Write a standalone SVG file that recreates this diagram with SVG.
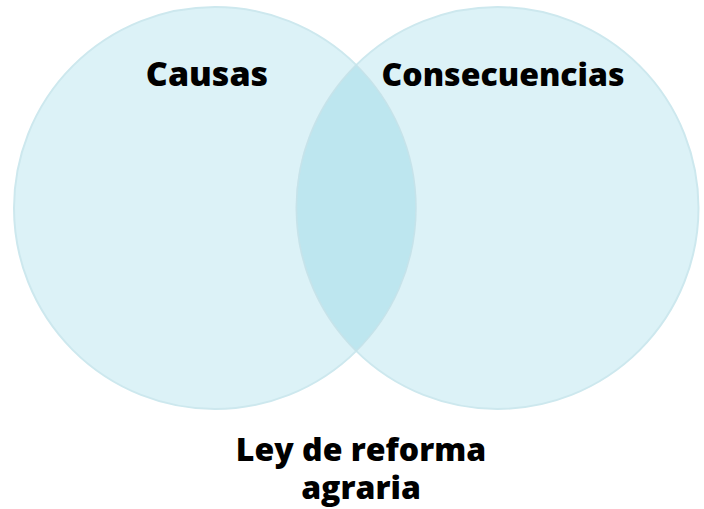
<svg xmlns="http://www.w3.org/2000/svg" width="704" height="509" viewBox="0 0 704 509">
<style>
.c{fill:#dcf2f7;stroke:#cde8ee;stroke-width:2}
.t{font-family:"Open Sans","DejaVu Sans",sans-serif;font-weight:800;fill:#000;text-anchor:middle}
</style>
<rect width="704" height="509" fill="#fff"/>
<g id="left"><circle class="c" cx="215" cy="208" r="201"/></g>
<g id="right"><circle class="c" cx="497.5" cy="208" r="201"/></g>
<g id="overlap"><path d="M356.25,65 A201,201 0 0 1 356.25,351 A201,201 0 0 1 356.25,65 Z" fill="#bde6ef" stroke="#c6e3ea" stroke-width="1.5"/></g>
<g id="labels">
<text class="t" x="207" y="86" font-size="34">Causas</text>
<text class="t" x="503" y="86" font-size="32">Consecuencias</text>
<text class="t" x="361" y="461" font-size="32">Ley de reforma</text>
<text class="t" x="361" y="499" font-size="32">agraria</text>
</g>
</svg>
